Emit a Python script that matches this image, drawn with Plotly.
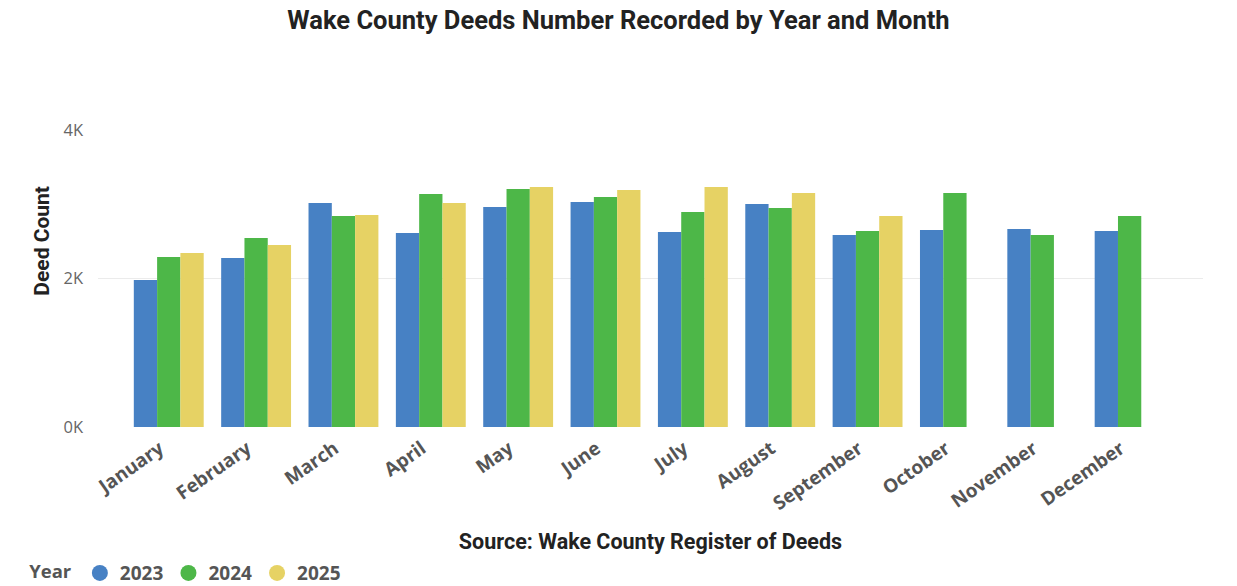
import plotly.graph_objects as go

months = ["January", "February", "March", "April", "May", "June", "July",
          "August", "September", "October", "November", "December"]
years = ["2023", "2024", "2025"]
deeds_2023 = [1980, 2276, 3017, 2613, 2963, 3030, 2626, 3003, 2586, 2653, 2667, 2640]
deeds_2024 = [2290, 2545, 2842, 3138, 3205, 3098, 2896, 2950, 2640, 3151, 2586, 2842]
deeds_2025 = [2343, 2451, 2855, 3017, 3232, 3192, 3232, 3151, 2842, None, None, None]
colors = ["#4781C4", "#4DB748", "#E6D264"]
y_ticks = [0, 2000, 4000]
y_tick_text = ["0K", "2K", "4K"]

fig = go.Figure()
for name, vals, col in zip(years, [deeds_2023, deeds_2024, deeds_2025], colors):
    fig.add_trace(go.Bar(x=months, y=vals, name=name, marker=dict(color=col, line=dict(width=0)),
                         showlegend=False))
for name, col in zip(years, colors):
    fig.add_trace(go.Scatter(x=[None], y=[None], mode="markers", name=name,
                             marker=dict(symbol="circle", size=17, color=col)))

fig.add_annotation(text="<b>Deed Count</b>", textangle=-90, xref="paper", yref="paper",
                   x=-0.0505, y=0.628, xanchor="center", yanchor="middle", showarrow=False,
                   font=dict(family="Roboto", size=21, color="#222222"))

fig.update_layout(
    width=1237, height=586,
    paper_bgcolor="white", plot_bgcolor="white",
    margin=dict(l=98, r=34, t=130, b=159),
    barmode="group", bargap=0.2, bargroupgap=0,
    title=dict(text="<b>Wake County Deeds Number Recorded by Year and Month</b>",
               x=0.5, xanchor="center", y=0.965, yanchor="middle",
               font=dict(family="Roboto", size=25.5, color="#222222")),
    xaxis=dict(range=[-0.81, 11.84], tickangle=-35, showgrid=False, showline=False, zeroline=False,
               automargin=False, ticklabelshift=-9, ticklabelstandoff=6,
               tickfont=dict(family="Open Sans", size=19, color="#555555", weight="bold"),
               title=dict(text="<b>Source: Wake County Register of Deeds</b>", standoff=31,
                          font=dict(family="Roboto", size=21.5, color="#222222"))),
    yaxis=dict(range=[0, 4000], tickvals=y_ticks, ticktext=y_tick_text, showgrid=True,
               gridcolor="#EBEBEB", gridwidth=1, zeroline=False, showline=False,
               ticks="", ticklabelstandoff=14, automargin=False,
               tickfont=dict(family="Open Sans", size=16.5, color="#666666")),
    legend=dict(orientation="h", x=0.022, xanchor="left", xref="container",
                y=0.022, yanchor="middle", yref="container",
                title=dict(text="<b>Year</b>", font=dict(family="Open Sans", size=18.5, color="#555555")),
                font=dict(family="Open Sans", size=19, color="#555555", weight="bold"),
                itemwidth=30, tracegroupgap=0),
)

fig.write_html("out.html")
